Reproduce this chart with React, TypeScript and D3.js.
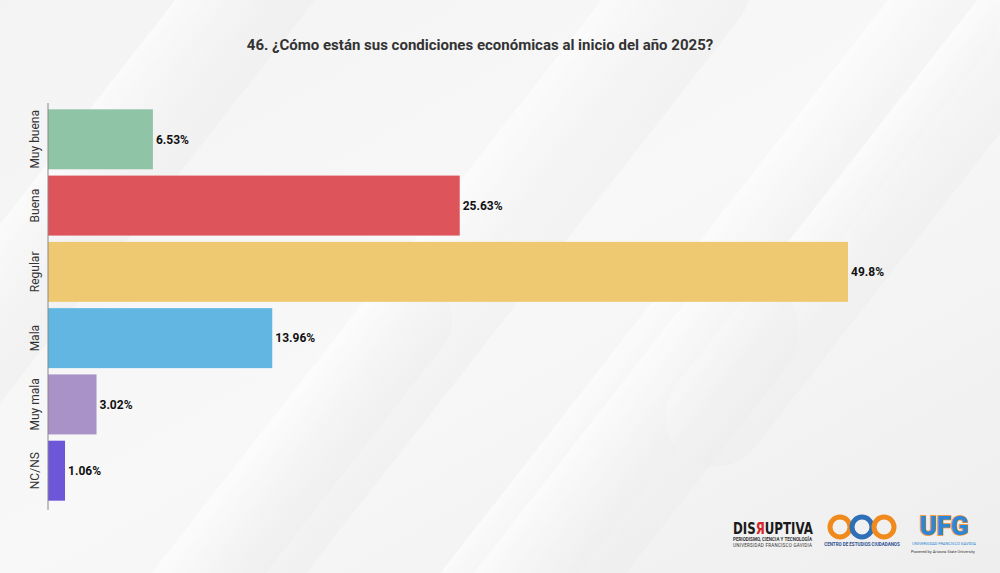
import * as d3 from 'd3';
import React, { useEffect, useRef } from 'react';

const categories = ['Muy buena', 'Buena', 'Regular', 'Mala', 'Muy mala', 'NC/NS'];
const values = [6.53, 25.63, 49.8, 13.96, 3.02, 1.06];
const labels = ['6.53%', '25.63%', '49.8%', '13.96%', '3.02%', '1.06%'];
const colors = ['#8fc4a7', '#de545b', '#eec971', '#62b6e2', '#a992c7', '#6e56d8'];

const W = 1000;
const H = 573;

const App = () => {
  const svgRef = useRef<SVGSVGElement>(null);

  useEffect(() => {
    const svg = d3.select(svgRef.current);
    svg.selectAll('*').remove();

    // fondo
    const defs = svg.append('defs');
    const bg = defs
      .append('linearGradient')
      .attr('id', 'bg')
      .attr('x1', '0')
      .attr('y1', '0')
      .attr('x2', '1')
      .attr('y2', '1');
    bg.append('stop').attr('offset', '0').attr('stop-color', '#f3f3f3');
    bg.append('stop').attr('offset', '0.5').attr('stop-color', '#f8f8f8');
    bg.append('stop').attr('offset', '1').attr('stop-color', '#eeeeee');

    const stripe = defs
      .append('linearGradient')
      .attr('id', 'stripe')
      .attr('x1', '0')
      .attr('y1', '0')
      .attr('x2', '0')
      .attr('y2', '1');
    stripe.append('stop').attr('offset', '0').attr('stop-color', '#ffffff').attr('stop-opacity', 0.9);
    stripe.append('stop').attr('offset', '1').attr('stop-color', '#e8e8e8').attr('stop-opacity', 0.4);

    svg.append('rect').attr('width', W).attr('height', H).attr('fill', 'url(#bg)');

    const stripes = [
      { cx: 120, cy: 160, w: 900, h: 110 },
      { cx: 420, cy: 330, w: 1000, h: 120 },
      { cx: 700, cy: 330, w: 900, h: 110 },
      { cx: 900, cy: 180, w: 700, h: 100 },
      { cx: 560, cy: 560, w: 700, h: 120 },
      { cx: 250, cy: 520, w: 600, h: 90 },
    ];
    svg
      .append('g')
      .attr('opacity', 0.7)
      .selectAll('rect')
      .data(stripes)
      .join('rect')
      .attr('x', (d) => -d.w / 2)
      .attr('y', (d) => -d.h / 2)
      .attr('width', (d) => d.w)
      .attr('height', (d) => d.h)
      .attr('rx', (d) => d.h / 2)
      .attr('fill', 'url(#stripe)')
      .attr('transform', (d) => `translate(${d.cx},${d.cy}) rotate(-52)`);

    // escalas
    const x = d3.scaleLinear().domain([0, 49.8]).range([48, 848]);
    const y = d3.scaleBand<string>().domain(categories).range([106, 504]).paddingInner(0.095).paddingOuter(0.05);

    // título
    svg
      .append('text')
      .attr('x', 480)
      .attr('y', 50)
      .attr('text-anchor', 'middle')
      .attr('font-family', 'Roboto, sans-serif')
      .attr('font-weight', 'bold')
      .attr('font-size', 15)
      .attr('fill', '#333333')
      .text('46. ¿Cómo están sus condiciones económicas al inicio del año 2025?');

    // barras
    const g = svg.append('g');
    g.selectAll('rect')
      .data(categories)
      .join('rect')
      .attr('x', x(0))
      .attr('y', (d) => y(d)!)
      .attr('width', (d, i) => x(values[i]) - x(0))
      .attr('height', y.bandwidth())
      .attr('fill', (d, i) => colors[i]);

    g.selectAll('text.val')
      .data(categories)
      .join('text')
      .attr('class', 'val')
      .attr('x', (d, i) => x(values[i]) + 3)
      .attr('y', (d) => y(d)! + y.bandwidth() / 2)
      .attr('dy', '0.35em')
      .attr('font-family', 'Roboto, sans-serif')
      .attr('font-weight', 'bold')
      .attr('font-size', 12)
      .attr('fill', '#111111')
      .text((d, i) => labels[i]);

    // eje y
    const axis = svg
      .append('g')
      .attr('transform', `translate(${x(0)},0)`)
      .call(d3.axisLeft(y).tickSize(0).tickPadding(8));
    axis.select('.domain').attr('stroke', '#888888').attr('d', 'M0,103V510');
    axis
      .selectAll('.tick text')
      .attr('font-family', 'Roboto, sans-serif')
      .attr('font-size', 12)
      .attr('fill', '#333333')
      .attr('text-anchor', 'middle')
      .attr('transform', 'rotate(-90)')
      .attr('x', 0)
      .attr('y', -9)
      .attr('dy', '0');

    // logos
    const logo = svg.append('g').attr('font-family', 'Roboto, sans-serif');
    logo
      .append('text')
      .attr('transform', 'translate(733,534) scale(0.82,1)')
      .attr('font-family', "'Liberation Sans Narrow', 'DejaVu Sans Condensed', sans-serif")
      .attr('font-weight', 'bold')
      .attr('font-size', 16)
      .attr('fill', '#1a1a1a')
      .html('DIS<tspan fill="#d4262c">Я</tspan>UPTIVA');
    logo
      .append('text')
      .attr('x', 733)
      .attr('y', 541)
      .attr('font-size', 4.5)
      .attr('font-weight', 'bold')
      .attr('fill', '#333')
      .attr('textLength', 79)
      .text('PERIODISMO, CIENCIA Y TECNOLOGÍA');
    logo
      .append('text')
      .attr('x', 733)
      .attr('y', 547)
      .attr('font-size', 4.5)
      .attr('fill', '#333')
      .attr('textLength', 79)
      .text('UNIVERSIDAD FRANCISCO GAVIDIA');

    // cec
    const ring = (cx: number, color: string) =>
      logo
        .append('circle')
        .attr('cx', cx)
        .attr('cy', 527)
        .attr('r', 10)
        .attr('fill', 'none')
        .attr('stroke', color)
        .attr('stroke-width', 5);
    ring(840, '#f08a1c');
    ring(862, '#2f6fb7');
    ring(884, '#f08a1c');
    logo
      .append('text')
      .attr('x', 862)
      .attr('y', 546)
      .attr('text-anchor', 'middle')
      .attr('font-size', 4.5)
      .attr('font-weight', 'bold')
      .attr('fill', '#2f4f8f')
      .text('CENTRO DE ESTUDIOS CIUDADANOS');

    // UFG
    logo
      .append('text')
      .attr('x', 944)
      .attr('y', 535)
      .attr('text-anchor', 'middle')
      .attr('font-weight', 900)
      .attr('font-size', 26)
      .attr('fill', '#2e86d6')
      .attr('stroke', '#f08a1c')
      .attr('stroke-width', 1.5)
      .attr('paint-order', 'stroke')
      .text('UFG');
    logo
      .append('text')
      .attr('x', 944)
      .attr('y', 545)
      .attr('text-anchor', 'middle')
      .attr('font-size', 4)
      .attr('fill', '#2e86d6')
      .text('UNIVERSIDAD FRANCISCO GAVIDIA');
    logo
      .append('text')
      .attr('x', 911)
      .attr('y', 553)
      .attr('font-size', 4)
      .attr('fill', '#333')
      .text('Powered by Arizona State University');
  }, []);

  return (
    <svg
      ref={svgRef}
      width={W}
      height={H}
      style={{ position: 'fixed', left: 0, top: 0, display: 'block' }}
    />
  );
};

export default App;
